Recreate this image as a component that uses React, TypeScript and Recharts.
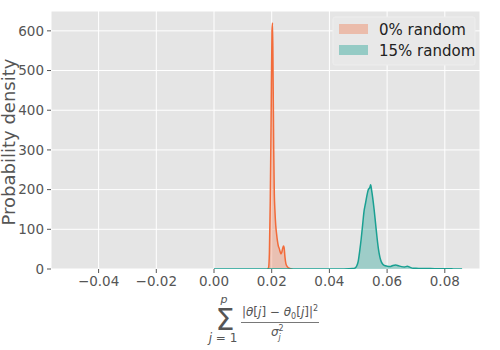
import React from "react";
import {
  ComposedChart,
  Area,
  XAxis,
  YAxis,
  CartesianGrid,
} from "recharts";

// KDE of the 0% random run (x, density)
const orangeX = [
  0.0185, 0.0189, 0.0192, 0.0195, 0.0198, 0.0201, 0.0203, 0.0205, 0.0207,
  0.0209, 0.0211, 0.0214, 0.0217, 0.0220, 0.0223, 0.0226, 0.0229, 0.0232,
  0.0235, 0.0238, 0.0241, 0.0243, 0.0246, 0.0249, 0.0253, 0.0258, 0.0265,
  0.0272,
];
const orangeY = [
  0, 3, 40, 170, 380, 600, 620, 470, 300, 190, 150, 110, 88, 70, 58, 52, 44,
  38, 42, 52, 58, 54, 30, 14, 7, 3, 1, 0,
];

// KDE of the 15% random run
const tealX = [
  0.0, 0.01, 0.02, 0.03, 0.04, 0.045, 0.048, 0.049, 0.0495, 0.05, 0.0505,
  0.051, 0.0515, 0.052, 0.0525, 0.053, 0.0535, 0.054, 0.0543, 0.0546, 0.055,
  0.0555, 0.056, 0.0565, 0.057, 0.0575, 0.058, 0.0585, 0.059, 0.06, 0.061,
  0.062, 0.063, 0.064, 0.065, 0.066, 0.067, 0.068, 0.069, 0.07, 0.072, 0.075,
  0.078, 0.08, 0.083, 0.086,
];
const tealY = [
  0, 0, 0, 0, 0, 0.3, 1, 3, 8, 20, 45, 75, 110, 145, 165, 185, 200, 205, 212,
  200, 180, 150, 115, 80, 50, 30, 18, 12, 9, 7, 6, 9, 10, 8, 6, 5, 7, 4, 2, 2,
  1, 1, 0.5, 0.5, 0.3, 0,
];

const xTicks = [-0.04, -0.02, 0.0, 0.02, 0.04, 0.06, 0.08];
const yTicks = [0, 100, 200, 300, 400, 500, 600];
const seriesNames = ["0% random", "15% random"];

const ORANGE = "#f26b3a";
const TEAL = "#1aa092";

const orangeMap = new Map(orangeX.map((x, i) => [x, orangeY[i]]));
const tealMap = new Map(tealX.map((x, i) => [x, tealY[i]]));
const rows = Array.from(new Set([...orangeX, ...tealX]))
  .sort((a, b) => a - b)
  .map((x) => ({ x, o: orangeMap.get(x), t: tealMap.get(x) }));

const fmt = (v: number) => v.toFixed(2).replace("-", "\u2212");

const tickStyle = { fontSize: 13.5, fill: "#555", fontFamily: "DejaVu Sans" };

export default function App() {
  return (
    <div
      style={{
        position: "absolute",
        left: 0,
        top: 0,
        width: 500,
        height: 350,
        background: "#fff",
        fontFamily: "DejaVu Sans",
      }}
    >
      <ComposedChart
        width={500}
        height={350}
        data={rows}
        margin={{ top: 11, right: 20, bottom: 0, left: 0 }}
      >
        <CartesianGrid fill="#e5e5e5" stroke="#fff" strokeWidth={1} />
        <XAxis
          dataKey="x"
          type="number"
          domain={[-0.0565, 0.0922]}
          ticks={xTicks}
          tickFormatter={fmt}
          allowDataOverflow
          axisLine={false}
          tickLine={{ stroke: "#555" }}
          tickSize={4}
          tickMargin={3}
          height={81}
          tick={tickStyle}
          interval={0}
        />
        <YAxis
          type="number"
          domain={[0, 650]}
          ticks={yTicks}
          allowDataOverflow
          axisLine={false}
          tickLine={{ stroke: "#555" }}
          tickSize={4}
          tickMargin={3}
          width={51}
          tick={tickStyle}
          interval={0}
        />
        <Area
          dataKey="o"
          type="monotone"
          stroke={ORANGE}
          strokeWidth={1.5}
          fill={ORANGE}
          fillOpacity={0.3}
          connectNulls
          dot={false}
          activeDot={false}
          isAnimationActive={false}
        />
        <Area
          dataKey="t"
          type="monotone"
          stroke={TEAL}
          strokeWidth={1.5}
          fill={TEAL}
          fillOpacity={0.35}
          connectNulls
          dot={false}
          activeDot={false}
          isAnimationActive={false}
        />
      </ComposedChart>
      <svg
        width={500}
        height={350}
        style={{ position: "absolute", left: 0, top: 0, pointerEvents: "none" }}
        fontFamily="DejaVu Sans"
      >
        {/* y label */}
        <text
          x={0}
          y={0}
          transform="translate(15,142) rotate(-90)"
          textAnchor="middle"
          fontSize={18}
          fill="#555"
        >
          Probability density
        </text>

        {/* x label: sum_{j=1}^{p} |θ[j] − θ0[j]|^2 / σ_j^2 */}
        <g fill="#555">
          <text x={225} y={330} textAnchor="middle" fontSize={30}>
            Σ
          </text>
          <text x={224} y={303} textAnchor="middle" fontSize={11} fontStyle="italic">
            p
          </text>
          <text x={223} y={342} textAnchor="middle" fontSize={12}>
            <tspan fontStyle="italic">j</tspan> = 1
          </text>
          <text x={280} y={316} textAnchor="middle" fontSize={12}>
            |<tspan fontStyle="italic">θ</tspan>[<tspan fontStyle="italic">j</tspan>] − <tspan fontStyle="italic">θ</tspan>
            <tspan fontSize={8} dy={3}>0</tspan>
            <tspan dy={-3}>[</tspan>
            <tspan fontStyle="italic">j</tspan>]|
            <tspan fontSize={8} dy={-5}>2</tspan>
          </text>
          <line x1={241} x2={319} y1={322.5} y2={322.5} stroke="#555" strokeWidth={0.8} />
          <text x={271} y={336} fontSize={12} fontStyle="italic">
            σ
          </text>
          <text x={278.5} y={331} fontSize={8}>
            2
          </text>
          <text x={278.5} y={340} fontSize={8} fontStyle="italic">
            j
          </text>
        </g>

        {/* legend */}
        <rect x={333} y={17} width={142} height={48} fill="#e8e8e8" stroke="#eeeeee" rx={2} />
        <rect x={339} y={24} width={29} height={10} fill={ORANGE} fillOpacity={0.35} />
        <rect x={339} y={45} width={29} height={10} fill={TEAL} fillOpacity={0.4} />
        <text x={379} y={34.5} fontSize={15} fill="#222">
          {seriesNames[0]}
        </text>
        <text x={379} y={55.5} fontSize={15} fill="#222">
          {seriesNames[1]}
        </text>
      </svg>
    </div>
  );
}
